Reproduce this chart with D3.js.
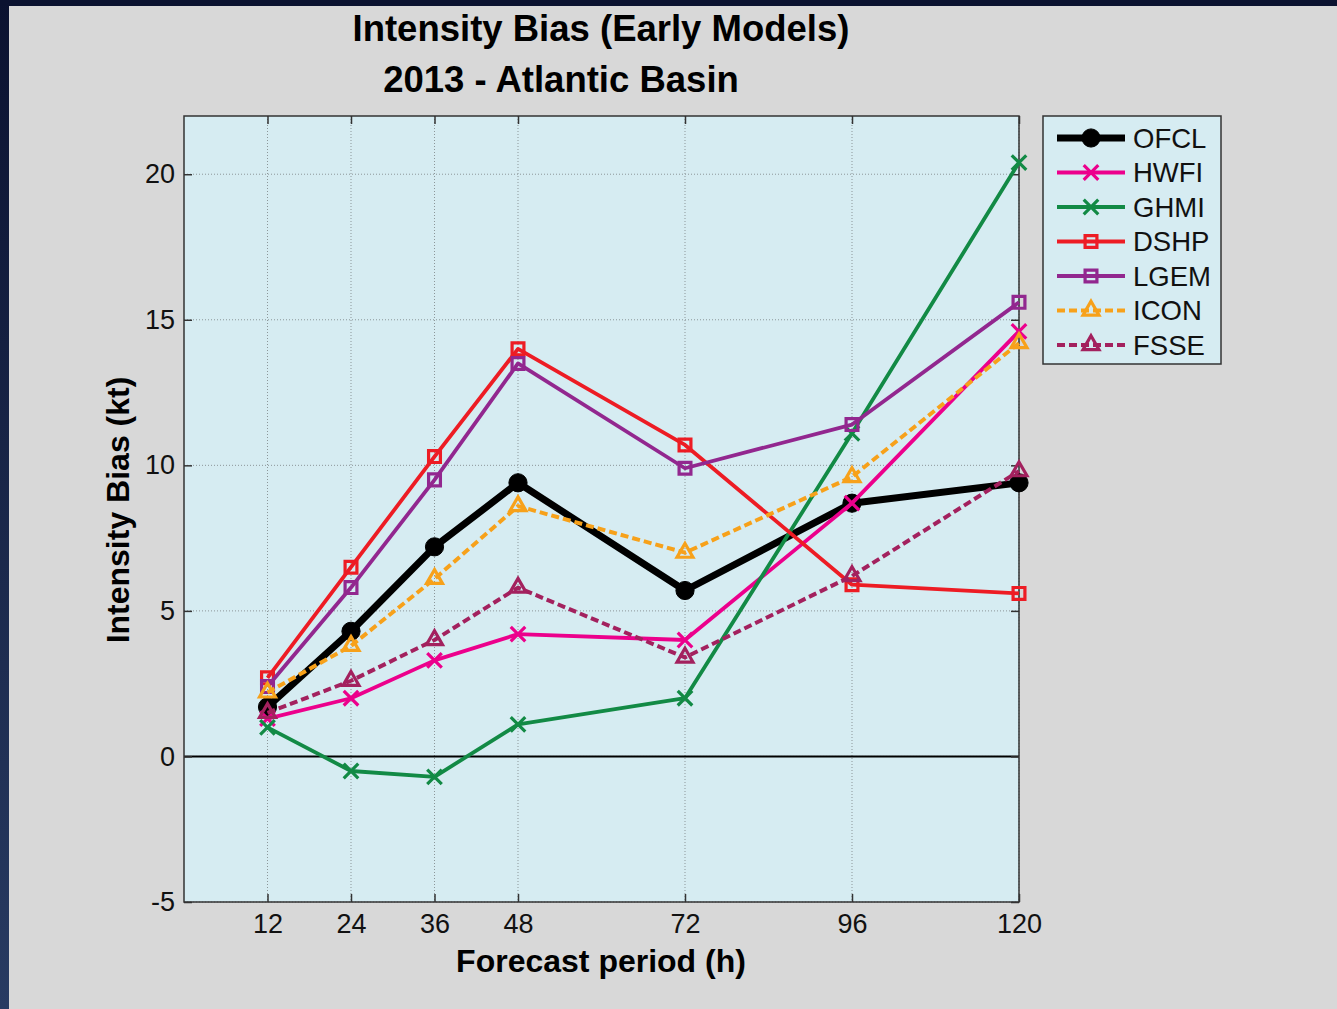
<!DOCTYPE html>
<html>
<head>
<meta charset="utf-8">
<script src="https://cdn.jsdelivr.net/npm/d3@7"></script>
<style>
  body { margin: 0; background: #d8d8d8; }
  svg { display: block; font-family: "Liberation Sans", Arial, sans-serif; }
</style>
</head>
<body>
<svg width="1337" height="1009"></svg>
<script>
// forecast hours and bias values (kt)
const hours = [12, 24, 36, 48, 72, 96, 120];
const ofcl = [1.7, 4.3, 7.2, 9.4, 5.7, 8.7, 9.4];
const hwfi = [1.3, 2.0, 3.3, 4.2, 4.0, 8.7, 14.6];
const ghmi = [1.0, -0.5, -0.7, 1.1, 2.0, 11.1, 20.4];
const dshp = [2.7, 6.5, 10.3, 14.0, 10.7, 5.9, 5.6];
const lgem = [2.4, 5.8, 9.5, 13.5, 9.9, 11.4, 15.6];
const icon = [2.2, 3.8, 6.1, 8.6, 7.0, 9.6, 14.2];
const fsse = [1.5, 2.6, 4.0, 5.8, 3.4, 6.2, 9.8];
const yTicks = [-5, 0, 5, 10, 15, 20];
const modelNames = ["OFCL", "HWFI", "GHMI", "DSHP", "LGEM", "ICON", "FSSE"];

window.addEventListener('load', () => {
    main()
})

function main() {
    const svg = d3.select("svg");
    const W = +svg.attr("width"), H = +svg.attr("height");
    const plot = {left: 184, top: 116, right: 1019, bottom: 902};

    // page frame
    const defs = svg.append("defs");
    const grad = defs.append("linearGradient").attr("id", "navy")
        .attr("x1", 0).attr("y1", 0).attr("x2", 0).attr("y2", 1);
    grad.append("stop").attr("offset", "0%").attr("stop-color", "#0b1230");
    grad.append("stop").attr("offset", "100%").attr("stop-color", "#283b62");
    svg.append("rect").attr("width", W).attr("height", H).attr("fill", "#d8d8d8");
    svg.append("rect").attr("width", 9).attr("height", H).attr("fill", "url(#navy)");
    svg.append("rect").attr("width", W).attr("height", 6).attr("fill", "#0b1230");

    const x = d3.scaleLinear().domain([0, 120]).range([plot.left, plot.right]);
    const y = d3.scaleLinear().domain([-5, 22]).range([plot.bottom, plot.top]);

    svg.append("rect")
        .attr("x", plot.left).attr("y", plot.top)
        .attr("width", plot.right - plot.left).attr("height", plot.bottom - plot.top)
        .attr("fill", "#d6ecf2");

    // dotted grid
    const grid = svg.append("g").attr("stroke", "#8c9699").attr("stroke-width", 1)
        .attr("stroke-dasharray", "1,2");
    grid.selectAll(".gx").data(hours).enter().append("line")
        .attr("x1", d => x(d)).attr("x2", d => x(d))
        .attr("y1", plot.top).attr("y2", plot.bottom);
    grid.selectAll(".gy").data(yTicks).enter().append("line")
        .attr("x1", plot.left).attr("x2", plot.right)
        .attr("y1", d => y(d)).attr("y2", d => y(d));

    // zero line
    svg.append("line")
        .attr("x1", plot.left).attr("x2", plot.right)
        .attr("y1", y(0)).attr("y2", y(0))
        .attr("stroke", "#000").attr("stroke-width", 2);

    // axes (ticks pointing inward on all four sides)
    const fmt = d => String(d);
    const xAxis = d3.axisBottom(x).tickValues(hours).tickFormat(fmt).tickSizeInner(-8).tickSizeOuter(0);
    const yAxis = d3.axisLeft(y).tickValues(yTicks).tickFormat(fmt).tickSizeInner(-8).tickSizeOuter(0);
    const gx = svg.append("g").attr("transform", `translate(0,${plot.bottom})`).call(xAxis);
    const gy = svg.append("g").attr("transform", `translate(${plot.left},0)`).call(yAxis);
    const gx2 = svg.append("g").attr("transform", `translate(0,${plot.top})`)
        .call(d3.axisTop(x).tickValues(hours).tickSizeInner(-8).tickSizeOuter(0).tickFormat(""));
    const gy2 = svg.append("g").attr("transform", `translate(${plot.right},0)`)
        .call(d3.axisRight(y).tickValues(yTicks).tickSizeInner(-8).tickSizeOuter(0).tickFormat(""));
    [gx, gy, gx2, gy2].forEach(g => {
        g.select(".domain").remove();
        g.selectAll(".tick line").attr("stroke", "#333").attr("stroke-width", 1.5);
        g.selectAll("text").attr("font-size", 27).attr("fill", "#111")
            .attr("font-family", '"Liberation Sans", Arial, sans-serif');
    });
    gx.selectAll("text").attr("dy", "0.71em").attr("y", 12);
    gy.selectAll("text").attr("x", -9);

    svg.append("rect")
        .attr("x", plot.left).attr("y", plot.top)
        .attr("width", plot.right - plot.left).attr("height", plot.bottom - plot.top)
        .attr("fill", "none").attr("stroke", "#333").attr("stroke-width", 1.5);

    // series
    const series = [
        {name: "OFCL", values: ofcl, color: "#000000", width: 7, dash: null, symbol: d3.symbolCircle, size: 260, fill: true},
        {name: "HWFI", values: hwfi, color: "#ec008c", width: 3.8, dash: null, symbol: d3.symbolTimes, size: 140, fill: false},
        {name: "GHMI", values: ghmi, color: "#128a45", width: 3.8, dash: null, symbol: d3.symbolTimes, size: 140, fill: false},
        {name: "DSHP", values: dshp, color: "#ed1c24", width: 3.8, dash: null, symbol: d3.symbolSquare, size: 140, fill: false},
        {name: "LGEM", values: lgem, color: "#92278f", width: 3.8, dash: null, symbol: d3.symbolSquare, size: 140, fill: false},
        {name: "ICON", values: icon, color: "#f7a11a", width: 4, dash: "8,4", symbol: d3.symbolTriangle, size: 110, fill: false},
        {name: "FSSE", values: fsse, color: "#a3215e", width: 4, dash: "8,4", symbol: d3.symbolTriangle, size: 110, fill: false}
    ];

    const line = d3.line()
        .x((d, i) => x(hours[i]))
        .y(d => y(d));

    series.forEach(s => {
        const g = svg.append("g").attr("class", "series " + s.name);
        g.append("path")
            .attr("d", line(s.values))
            .attr("fill", "none")
            .attr("stroke", s.color)
            .attr("stroke-width", s.width)
            .attr("stroke-linejoin", "round")
            .attr("stroke-dasharray", s.dash);
        g.selectAll(".mk").data(s.values).enter().append("path")
            .attr("transform", (d, i) => `translate(${x(hours[i])},${y(d)})`)
            .attr("d", d3.symbol(s.symbol, s.size))
            .attr("fill", s.fill ? s.color : "none")
            .attr("stroke", s.color)
            .attr("stroke-width", s.fill ? 1 : 3.2);
    });

    // titles
    svg.append("text").attr("x", 601).attr("y", 41).attr("text-anchor", "middle")
        .attr("font-size", 36.5).attr("font-weight", "bold").text("Intensity Bias (Early Models)");
    svg.append("text").attr("x", 561).attr("y", 92).attr("text-anchor", "middle")
        .attr("font-size", 36.5).attr("font-weight", "bold").text("2013 - Atlantic Basin");
    svg.append("text").attr("x", 601).attr("y", 972).attr("text-anchor", "middle")
        .attr("font-size", 32).attr("font-weight", "bold").text("Forecast period (h)");
    svg.append("text").attr("transform", "translate(129,510) rotate(-90)").attr("text-anchor", "middle")
        .attr("font-size", 32).attr("font-weight", "bold").text("Intensity Bias (kt)");

    // legend
    const leg = svg.append("g");
    leg.append("rect").attr("x", 1043).attr("y", 116).attr("width", 178).attr("height", 248)
        .attr("fill", "#d6ecf2").attr("stroke", "#333").attr("stroke-width", 1.5);
    series.forEach((s, i) => {
        const ly = 138 + i * 34.5;
        leg.append("line").attr("x1", 1057).attr("x2", 1125).attr("y1", ly).attr("y2", ly)
            .attr("stroke", s.color).attr("stroke-width", s.width).attr("stroke-dasharray", s.dash);
        leg.append("path").attr("transform", `translate(1091,${ly})`)
            .attr("d", d3.symbol(s.symbol, s.size))
            .attr("fill", s.fill ? s.color : "none")
            .attr("stroke", s.color).attr("stroke-width", s.fill ? 1 : 3.2);
        leg.append("text").attr("x", 1133).attr("y", ly).attr("dy", "0.36em")
            .attr("font-size", 27.5).attr("fill", "#111").text(modelNames[i]);
    });
}
</script>
</body>
</html>
